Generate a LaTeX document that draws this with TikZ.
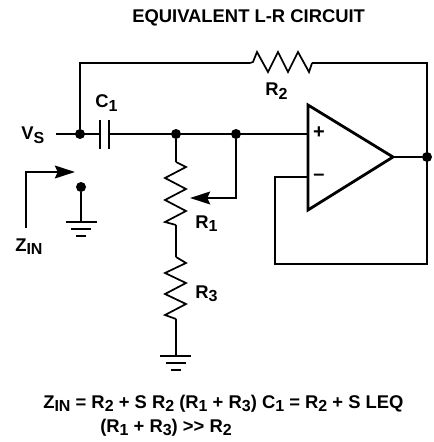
\documentclass[tikz,border=0pt]{standalone}
\usepackage{fontspec}
\setmainfont{Liberation Sans}
\usetikzlibrary{arrows.meta}
\tikzset{
 wire/.style={line width=1.95pt,line join=miter},
 zig/.style={line width=1.3pt,line join=miter},
 dot/.style={circle,fill=black,inner sep=0pt,minimum size=7.5pt},
 lab/.style={font=\bfseries\fontsize{13.8}{16}\selectfont,inner sep=0pt},
 sgn/.style={font=\bfseries\fontsize{15}{15}\selectfont,inner sep=0pt},
 arr/.style={wire,-{Stealth[length=15pt,width=9.5pt,inset=2pt]}}
}
\newcommand{\sbs}[1]{\raisebox{-2.6pt}{\fontsize{12}{14}\selectfont #1}}
\begin{document}
\begin{tikzpicture}[x=0.75pt,y=-0.75pt]
\useasboundingbox (0,0) rectangle (434,442);
% key junctions
\node[dot] (vs) at (80,134) {};
\node[dot] (j1) at (176,134) {};
\node[dot] (j2) at (236,134) {};
\node[dot] (out) at (427,157) {};
\node[dot] (gd) at (81,187) {};
\coordinate (in) at (56,134);
\coordinate (c1) at (100,134);
\coordinate (c2) at (109,134);
\coordinate (tl) at (80,63);
\coordinate (tr) at (427,63);
\coordinate (r2a) at (250,63);
\coordinate (r2b) at (312,63);
\coordinate (ip) at (308,134);
\coordinate (im) at (308,177);
\coordinate (fb1) at (275,177);
\coordinate (fb2) at (275,264);
\coordinate (fb3) at (427,264);
\coordinate (tip) at (393,157);
\coordinate (r1a) at (176,162);
\coordinate (r1b) at (176,225);
\coordinate (r3a) at (176,257);
\coordinate (r3b) at (176,319);
\coordinate (g1) at (176,356);
\coordinate (g2) at (81,222);
\coordinate (wc) at (236,198);
\coordinate (wip) at (190,198);
\coordinate (z0) at (26,228);
\coordinate (z1) at (26,172);
\coordinate (z2) at (75,172);
% wires
\draw[wire] (in) -- (c1);
\draw[wire] (c2) -- (ip);
\draw[wire] (vs) -- (tl) -- (r2a);
\draw[wire] (r2b) -- (tr) -- (fb3) -- (fb2) -- (fb1) -- (im);
\draw[wire] (tip) -- (out);
\draw[wire] (j1) -- (r1a);
\draw[wire] (r1b) -- (r3a);
\draw[wire] (r3b) -- (g1);
\draw[wire] (gd) -- (g2);
% capacitor
\draw[wire] (100,120) -- (100,149);
\draw[wire] (109,120) -- (109,149);
% op amp
\draw[wire,line width=2.1pt] (308,105) -- (308,210) -- (393,157) -- cycle;
\node[sgn] (plus) at (319,133) {+};
\node[sgn] (minus) at (319,177) {–};
% resistors
\draw[zig] (r2a) -- (253,62) -- (257,52) -- (268,72) -- (278,52) -- (288,72) -- (298,52) -- (309,72) -- (r2b);
\draw[zig] (r1a) -- (186,167) -- (165,178) -- (186,189) -- (165,200) -- (186,211) -- (165,222) -- (r1b);
\draw[zig] (r3a) -- (186,263) -- (165,273) -- (186,283) -- (165,294) -- (186,304) -- (165,315) -- (r3b);
% wiper
\draw[arr] (j2) -- (wc) -- (wip);
% grounds
\draw[wire] (160,356) -- (191,356) (166,363) -- (186,363) (171,370) -- (181,370);
\draw[wire] (66,222) -- (97,222) (71,229) -- (91,229) (76,236) -- (86,236);
% Zin arrow
\draw[arr] (z0) -- (z1) -- (z2);
% labels
\node[lab,anchor=base west] (title) at (132,23) {EQUIVALENT L-R CIRCUIT};
\node[lab,anchor=base west] (lc) at (95,108) {C\sbs{1}};
\node[lab,anchor=base west] (lr2) at (265,96) {R\sbs{2}};
\node[lab,anchor=base west] (lr1) at (195,228) {R\sbs{1}};
\node[lab,anchor=base west] (lr3) at (195,298) {R\sbs{3}};
\node[lab,anchor=base west] (lv) at (21,140) {V\sbs{S}};
\node[lab,anchor=base west] (lz) at (15,251) {Z\sbs{IN}};
\node[lab,anchor=base west] (eq1) at (43,408) {Z\sbs{IN} = R\sbs{2} + S R\sbs{2} (R\sbs{1} + R\sbs{3}) C\sbs{1} = R\sbs{2} + S LEQ};
\node[lab,anchor=base west] (eq2) at (100,432) {(R\sbs{1} + R\sbs{3}) >{}> R\sbs{2}};
\end{tikzpicture}
\end{document}
